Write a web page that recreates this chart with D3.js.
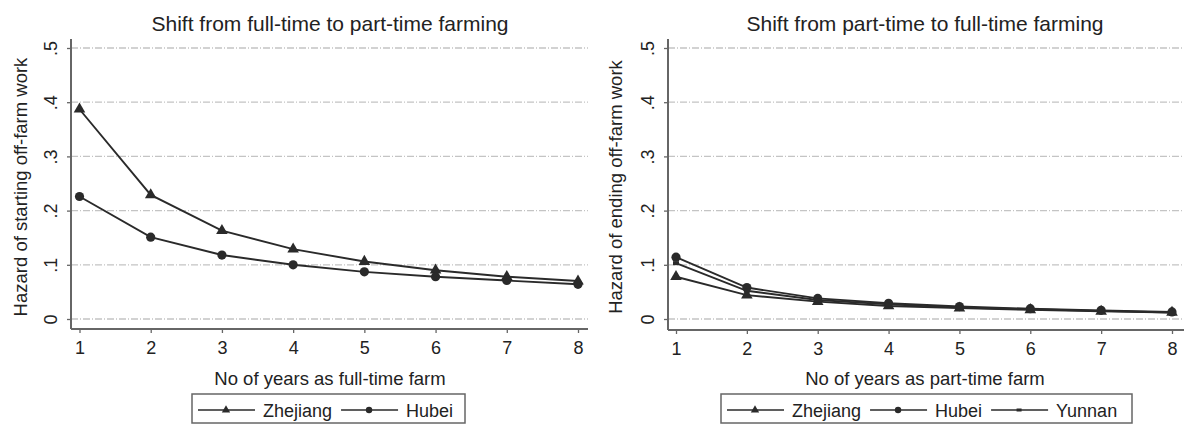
<!DOCTYPE html>
<html><head><meta charset="utf-8">
<script src="https://cdn.jsdelivr.net/npm/d3@7"></script>
<style>body{margin:0;background:#fff;overflow:hidden}svg{display:block}text{font-family:"Liberation Sans",Arial,sans-serif;fill:#222}</style>
</head><body><svg id="c" width="1184" height="425"></svg>
<script>
const years = [1,2,3,4,5,6,7,8];
const yTicks = [0,0.1,0.2,0.3,0.4,0.5];
const yTickLabels = ["0",".1",".2",".3",".4",".5"];
const leftZhejiang = [0.387,0.229,0.163,0.129,0.106,0.090,0.078,0.070];
const leftHubei    = [0.226,0.151,0.118,0.100,0.087,0.078,0.071,0.064];
const rightZhejiang = [0.078,0.044,0.032,0.024,0.020,0.017,0.014,0.012];
const rightHubei    = [0.114,0.058,0.038,0.029,0.023,0.019,0.016,0.013];
const rightYunnan   = [0.103,0.052,0.035,0.027,0.021,0.018,0.015,0.012];

const svg = d3.select("#c");
const col = "#2a2a2a";

function panel(cfg){
  const g = svg.append("g");
  const x = d3.scaleLinear().domain([1,8]).range([cfg.x1, cfg.x8]);
  const y = d3.scaleLinear().domain([0,0.5]).range([319,48]);
  g.selectAll(".grid").data(yTicks).enter().append("line")
    .attr("x1", cfg.axisX).attr("x2", cfg.right)
    .attr("y1", d=>y(d)).attr("y2", d=>y(d))
    .attr("stroke","#c4c4c4").attr("stroke-width",1.3).attr("stroke-dasharray","7,2,1,2");
  const ya = g.append("g").attr("transform",`translate(${cfg.axisX},0)`)
    .call(d3.axisLeft(y).tickValues(yTicks).tickFormat((d,i)=>yTickLabels[i]).tickSize(4));
  ya.select(".domain").attr("d",`M0,39V${cfg.axisY}`).attr("stroke","#666").attr("stroke-width",2);
  ya.selectAll(".tick line").attr("stroke","#666").attr("stroke-width",1.3);
  ya.selectAll(".tick text").attr("font-size",18).attr("fill","#222")
    .attr("text-anchor","middle").attr("x",0).attr("dy",0)
    .attr("transform","translate(-14,0) rotate(-90)");
  const xa = g.append("g").attr("transform",`translate(0,${cfg.axisY})`)
    .call(d3.axisBottom(x).tickValues(years).tickFormat(d3.format("d")).tickSize(4).tickPadding(8));
  xa.select(".domain").attr("d",`M${cfg.axisX},0H${cfg.right}`).attr("stroke","#666").attr("stroke-width",2);
  xa.selectAll(".tick line").attr("stroke","#666").attr("stroke-width",1.3);
  xa.selectAll(".tick text").attr("font-size",18).attr("fill","#222");
  g.append("text").attr("x",cfg.titleX).attr("y",31).attr("text-anchor","middle").attr("font-size",21).attr("fill","#333").text(cfg.title);
  g.append("text").attr("x",cfg.titleX).attr("y",385).attr("text-anchor","middle").attr("font-size",18.5).text(cfg.xlabel);
  g.append("text").attr("transform",`translate(${cfg.ylabX},187) rotate(-90)`).attr("text-anchor","middle").attr("font-size",18.5).text(cfg.ylabel);
  const line = d3.line().x((d,i)=>x(years[i])).y(d=>y(d));
  cfg.series.forEach(s=>{
    g.append("path").datum(s.values).attr("d",line).attr("fill","none").attr("stroke",col).attr("stroke-width",1.9);
    drawMarker(g.selectAll(null).data(s.values).enter(), s.marker, (d,i)=>x(years[i]), d=>y(d));
  });
  const lg = g.append("g");
  lg.append("rect").attr("x",cfg.legX).attr("y",394).attr("width",cfg.legW).attr("height",29)
    .attr("fill","#fff").attr("stroke","#666").attr("stroke-width",1.5);
  let lx = cfg.legX + 6;
  cfg.series.forEach(s=>{
    lg.append("line").attr("x1",lx).attr("x2",lx+57).attr("y1",410).attr("y2",410).attr("stroke",col).attr("stroke-width",1.7);
    drawMarker(lg.selectAll(null).data([0]).enter(), s.marker, ()=>lx+28, ()=>410, true);
    const t = lg.append("text").attr("x",lx+65).attr("y",417).attr("font-size",18).text(s.name);
    lx += 65 + t.node().getComputedTextLength() + 9;
  });
}
function drawMarker(sel, type, fx, fy, small){
  if(type==="tri"){
    sel.append("path").attr("d", d3.symbol(d3.symbolTriangle, small?30:58)())
      .attr("transform",(d,i)=>`translate(${fx(d,i)},${fy(d,i)})`).attr("fill",col);
  } else if(type==="circ"){
    sel.append("circle").attr("cx",fx).attr("cy",fy).attr("r",small?3.2:4.6).attr("fill",col);
  } else {
    const w = small?5:6, h = small?3:4;
    sel.append("rect").attr("x",(d,i)=>fx(d,i)-w/2).attr("y",(d,i)=>fy(d,i)-h/2).attr("width",w).attr("height",h).attr("fill",col);
  }
}

panel({x1:79.5,x8:578,axisX:71,axisY:329,right:588,titleX:330,ylabX:27,
  title:"Shift from full-time to part-time farming",xlabel:"No of years as full-time farm",
  ylabel:"Hazard of starting off-farm work",legX:192,legW:273,
  series:[{name:"Zhejiang",marker:"tri",values:leftZhejiang},{name:"Hubei",marker:"circ",values:leftHubei}]});
panel({x1:676,x8:1172,axisX:668,axisY:330,right:1184,titleX:925,ylabX:622,
  title:"Shift from part-time to full-time farming",xlabel:"No of years as part-time farm",
  ylabel:"Hazard of ending off-farm work",legX:721,legW:411,
  series:[{name:"Zhejiang",marker:"tri",values:rightZhejiang},{name:"Hubei",marker:"circ",values:rightHubei},{name:"Yunnan",marker:"sq",values:rightYunnan}]});
</script></body></html>
